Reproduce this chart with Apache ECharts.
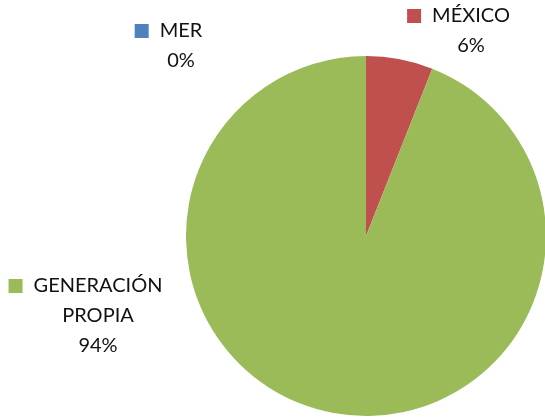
<!DOCTYPE html>
<html>
<head>
<meta charset="utf-8">
<script src="https://cdn.jsdelivr.net/npm/echarts@6/dist/echarts.min.js"></script>
<style>html,body{margin:0;padding:0;background:#fff;}#c{width:545px;height:418px;}</style>
</head>
<body>
<div id="c"></div>
<script>
// Draw order (clockwise from 12 o'clock)
const categories = ['MÉXICO', 'GENERACIÓN PROPIA', 'MER'];
const values = [6, 94, 0];
const colors = ['#C0504D', '#9BBB59', '#4F81BD'];

// label block centres (layout only)
const labelPos = [[471, 31], [98, 316], [181, 46]];

const rich = {
  g: { width: 11 },
  p: { width: 25 },
  t: { fontFamily: 'Lato', fontSize: 20, color: '#111', lineHeight: 30 }
};
colors.forEach((c, i) => { rich['m' + i] = { width: 14, height: 14, backgroundColor: c }; });

const chart = echarts.init(document.getElementById('c'), null, { renderer: 'canvas' });
chart.setOption({
  animation: false,
  color: colors,
  series: [{
    type: 'pie',
    center: [366, 236],
    radius: 180,
    startAngle: 90,
    clockwise: true,
    silent: true,
    stillShowZeroSum: true,
    data: categories.map((n, i) => ({ name: n, value: values[i] })),
    itemStyle: { borderWidth: 0 },
    labelLine: { show: false },
    label: {
      show: true,
      position: 'outside',
      overflow: 'none',
      fontFamily: 'Lato',
      fontSize: 20,
      color: '#111',
      lineHeight: 30,
      rich: rich,
      formatter: function (p) {
        const parts = p.name.split(' ');
        let s = '{m' + p.dataIndex + '|}{g|}{t|' + parts[0] + '}{p|}';
        for (let k = 1; k < parts.length; k++) s += '\n{t|' + parts[k] + '}';
        s += '\n{t|' + Math.round(p.percent) + '%}';
        return s;
      }
    },
    labelLayout: function (params) {
      const pos = labelPos[params.dataIndex];
      return { x: pos[0], y: pos[1], align: 'center', verticalAlign: 'middle' };
    }
  }]
});
</script>
</body>
</html>
